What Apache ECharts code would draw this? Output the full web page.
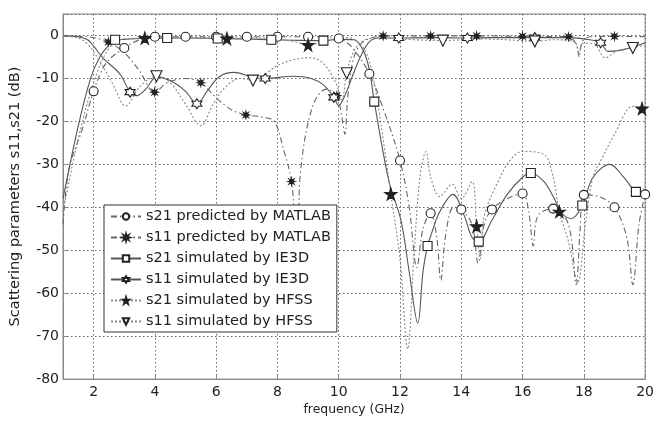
<!DOCTYPE html>
<html>
<head>
<meta charset="utf-8">
<script src="https://cdn.jsdelivr.net/npm/echarts@6/dist/echarts.min.js"></script>
<style>
html,body{margin:0;padding:0;background:#fff;}
#c{width:657px;height:421px;}
</style>
</head>
<body>
<div id="c"></div>
<script>
// ---- data (frequency in GHz, value in dB) ----
const xTicks = [2, 4, 6, 8, 10, 12, 14, 16, 18, 20];
const seriesNames = [
  's21 predicted by MATLAB',
  's11 predicted by MATLAB',
  's21 simulated by IE3D',
  's11 simulated by IE3D',
  's21 simulated by HFSS',
  's11 simulated by HFSS'
];

const s21Matlab = [[1,-44],[1.2,-31],[1.64,-21.6],[2.4,-6.5],[3.5,-1],[9.6,-0.3],[10.4,-2.5],[11.5,-18],[12.3,-40],[12.55,-54],[12.75,-45],[13.2,-47],[13.33,-57],[13.5,-46],[13.75,-40],[14.35,-44],[14.55,-53],[14.75,-44],[15.5,-38],[16.2,-41],[16.35,-49],[16.5,-42],[17.5,-44],[17.75,-58],[17.88,-45],[18.5,-37.5],[19.4,-47],[19.6,-58],[19.8,-44]];
const s21MatlabMarks = [[2,-13],[3,-2.9],[4,-0.3],[5,-0.3],[6,-0.3],[7,-0.3],[8,-0.3],[9,-0.3],[10,-0.7],[11,-8.9],[12,-29.1],[13,-41.4],[14,-40.5],[15,-40.5],[16,-36.8],[17,-40.3],[18,-37.1],[19,-40],[20,-37]];

const s11Matlab = [[1,-0.1],[1.8,-0.3],[2.2,-0.8],[3,-4],[3.5,-8.3],[4.4,-11],[5,-10],[6,-14.5],[6.5,-17.3],[7.5,-19],[7.9,-20],[8.2,-26.6],[8.57,-46],[8.63,-57],[8.69,-44],[8.75,-32],[9.14,-16.6],[9.6,-12.5],[10.1,-19],[10.2,-23],[10.3,-14],[10.5,-5],[10.8,-1.5],[17.75,-2],[17.85,-5],[17.95,-1.5],[18.2,-0.3],[20,-0.3]];
const s11MatlabMarks = [[2.48,-1.5],[3.99,-13.2],[5.5,-11],[6.97,-18.5],[8.46,-34],[9.94,-14],[11.45,-0.1],[13,-0.1],[14.5,-0.1],[16,-0.2],[17.5,-0.3],[19,-0.2]];

const s21Ie3d = [[1,-38],[1.48,-21.6],[1.9,-10],[2.2,-5],[2.5,-2.2],[3,-0.9],[3.5,-0.7],[5,-0.6],[7,-0.8],[8.5,-1.1],[10,-0.9],[10.5,-1],[10.8,-3.5],[11,-8],[11.64,-34],[12.03,-43],[12.3,-55],[12.58,-67],[12.75,-55],[13,-46.7],[13.3,-41],[13.73,-37],[14.1,-42],[14.35,-47],[15,-43],[15.5,-37],[16,-33],[16.7,-34],[17,-37.5],[17.3,-41.5],[17.6,-42.6],[18.3,-33],[18.85,-30],[19.3,-33],[20,-37]];
const s21Ie3dMarks = [[2.7,-1],[4.4,-0.6],[6.05,-0.7],[7.8,-1],[9.5,-1.2],[11.16,-15.4],[12.9,-49],[14.57,-48],[16.27,-32],[17.95,-39.6],[19.7,-36.4]];

const s11Ie3d = [[1,-0.1],[1.5,-0.3],[1.8,-1],[2,-2.5],[2.3,-5.2],[2.86,-9],[3.4,-14],[3.7,-12.5],[4.05,-9.7],[4.5,-10.5],[5,-13],[5.7,-13],[6.1,-9.6],[6.6,-8.6],[7.2,-9.8],[8.5,-9.5],[9.1,-10],[9.5,-11.5],[10,-16.3],[10.2,-14],[10.5,-8.5],[10.74,-4.5],[11,-1.5],[11.3,-0.6],[13,-0.5],[15,-0.5],[17.5,-0.5],[18.2,-1],[18.8,-3.7],[19.3,-3.3],[20,-1.7]];
const s11Ie3dMarks = [[3.19,-13.2],[5.37,-15.9],[7.6,-10],[9.84,-14.4],[11.96,-0.6],[14.2,-0.6],[16.4,-0.5],[18.55,-1.7]];

const s21Hfss = [[1,-41],[1.5,-24],[2,-11],[2.5,-3],[3,-0.8],[4.5,-0.5],[5.5,-0.5],[7,-0.6],[8,-0.8],[8.6,-1.5],[9.3,-1.8],[9.8,-0.8],[10.3,-0.5],[10.7,-2],[11,-6],[11.3,-17],[12,-52],[12.25,-73],[12.45,-52],[12.65,-33],[12.85,-27],[13,-33],[13.3,-37.5],[13.7,-34.6],[14,-38],[14.35,-34],[14.62,-52],[14.75,-42],[15.2,-34],[15.6,-29],[16,-27],[16.7,-27.7],[17,-33],[17.5,-48],[17.8,-57.4],[18.05,-44],[18.3,-33],[18.6,-28.5],[19,-23],[19.6,-16.5],[20,-17]];
const s21HfssMarks = [[3.67,-0.6],[6.35,-0.7],[9,-2.2],[11.7,-36.9],[14.5,-44.4],[17.2,-41],[19.9,-17]];

const s11Hfss = [[1,-0.1],[1.5,-0.6],[1.8,-2],[2.2,-6],[2.6,-11],[3.05,-16.4],[3.5,-12],[4.5,-11],[5,-16],[5.5,-21],[5.9,-16],[6.3,-12],[6.8,-10],[8,-7],[8.6,-5.5],[9.1,-5.2],[9.5,-6.5],[9.9,-11],[10.1,-15],[10.5,-3.5],[10.8,-1.2],[11.3,-0.6],[12.5,-1],[14.5,-0.8],[15.5,-1],[17,-1],[17.7,-1.5],[17.85,-4],[17.95,-1.8],[18.3,-1.8],[18.7,-5.2],[19.1,-3.5],[20,-2.2]];
const s11HfssMarks = [[4.05,-9.5],[7.2,-10.5],[10.26,-8.8],[13.4,-1.2],[16.4,-1.4],[19.6,-2.9]];

// ---- build ----
function merge(curve, marks) {
  const mx = new Set(marks.map(m => m[0]));
  const items = curve.filter(p => !mx.has(p[0])).map(p => ({ value: p, symbol: 'none' }))
    .concat(marks.map(m => ({ value: m })));
  items.sort((a, b) => a.value[0] - b.value[0]);
  return items;
}

const PENT = 'path://M50,0 L61,35 L98,35 L68,57 L79,91 L50,70 L21,91 L32,57 L2,35 L39,35 Z';
const HEX = 'path://M50,0 L64,25 L93,25 L79,50 L93,75 L64,75 L50,100 L36,75 L7,75 L21,50 L7,25 L36,25 Z';
const AST = 'path://M50,0 L57.7,31.5 L85.4,14.6 L68.5,42.3 L100,50 L68.5,57.7 L85.4,85.4 L57.7,68.5 L50,100 L42.3,68.5 L14.6,85.4 L31.5,57.7 L0,50 L31.5,42.3 L14.6,14.6 L42.3,31.5 Z';

const dashDot = [6, 3, 1.5, 3];
const dotted = [2, 2];

function mk(name, curve, marks, sym, size, fill, lineType, lineColor, rot) {
  return {
    name: name, type: 'line', smooth: 0.35,
    data: merge(curve, marks),
    symbol: sym, symbolSize: size, symbolRotate: rot || 0,
    showSymbol: true, showAllSymbol: true,
    lineStyle: { color: lineColor, width: 1.1, type: lineType },
    itemStyle: { color: fill, borderColor: '#222', borderWidth: 1.1 },
    emphasis: { disabled: true }
  };
}

const chart = echarts.init(document.getElementById('c'), null, { renderer: 'canvas' });
const FONT = 'DejaVu Sans';
chart.setOption({
  animation: false,
  backgroundColor: '#fff',
  textStyle: { fontFamily: FONT },
  grid: { left: 57, right: 9, top: 14, bottom: 35, show: true, borderColor: '#888', borderWidth: 1, backgroundColor: '#fff' },
  legend: {
    orient: 'vertical', left: 104, top: 205,
    data: seriesNames,
    backgroundColor: '#fff', borderColor: '#333', borderWidth: 1,
    padding: [4, 6, 3, 6], itemGap: 6, itemWidth: 30, itemHeight: 8,
    textStyle: { fontFamily: FONT, fontSize: 14.5, color: '#222' },
    inactiveColor: '#222'
  },
  xAxis: {
    type: 'value', min: 1, max: 20,
    name: 'frequency (GHz)', nameLocation: 'middle', nameGap: 22,
    nameTextStyle: { fontFamily: FONT, fontSize: 12.4, color: '#222' },
    axisLine: { show: true, onZero: false, lineStyle: { color: '#888', width: 1 } },
    axisTick: { show: true, inside: true, length: 4, customValues: xTicks, lineStyle: { color: '#888' } },
    axisLabel: { customValues: xTicks, fontFamily: FONT, fontSize: 14, color: '#222', margin: 6 },
    splitLine: { show: true, lineStyle: { color: '#666', type: [1.5, 2.5], width: 1 } }
  },
  yAxis: {
    type: 'value', min: -80, max: 5, interval: 10,
    name: 'Scattering parameters s11,s21 (dB)', nameLocation: 'middle', nameGap: 40,
    nameTextStyle: { fontFamily: FONT, fontSize: 14.5, color: '#222' },
    axisLine: { show: true, lineStyle: { color: '#888', width: 1 } },
    axisTick: { show: true, inside: true, length: 4, lineStyle: { color: '#888' } },
    axisLabel: { fontFamily: FONT, fontSize: 14, color: '#222', margin: 4, formatter: v => (v > 0 ? '' : String(v)) },
    splitLine: { show: true, lineStyle: { color: '#666', type: [1.5, 2.5], width: 1 } }
  },
  series: [
    mk(seriesNames[0], s21Matlab, s21MatlabMarks, 'circle', 9, '#fff', dashDot, '#666'),
    mk(seriesNames[1], s11Matlab, s11MatlabMarks, AST, 7, '#222', dashDot, '#666'),
    mk(seriesNames[2], s21Ie3d, s21Ie3dMarks, 'rect', 9, '#fff', 'solid', '#555'),
    mk(seriesNames[3], s11Ie3d, s11Ie3dMarks, HEX, 10, '#fff', 'solid', '#555'),
    mk(seriesNames[4], s21Hfss, s21HfssMarks, PENT, 12, '#222', dotted, '#888'),
    mk(seriesNames[5], s11Hfss, s11HfssMarks, 'triangle', 11, '#fff', dotted, '#888', 180)
  ]
});
</script>
</body>
</html>
